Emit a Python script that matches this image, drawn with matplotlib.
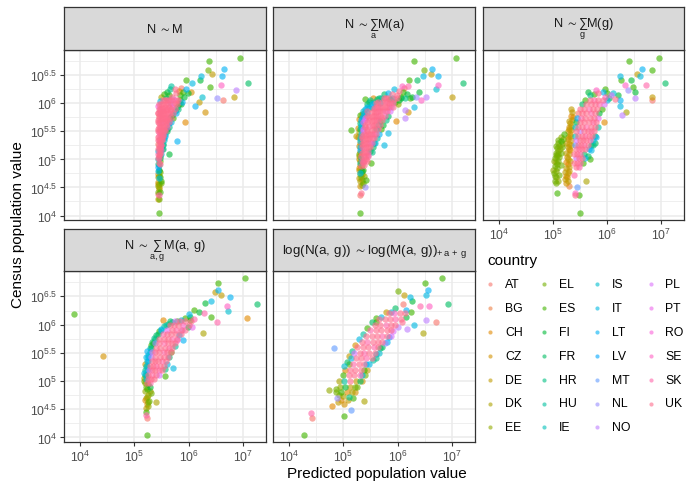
import numpy as np
import matplotlib
matplotlib.use("Agg")
import matplotlib.pyplot as plt

# ---------------- data (log10 values) ----------------
countries = ["AT", "BG", "CH", "CZ", "DE", "DK", "EE", "EL", "ES", "FI", "FR", "HR", "HU", "IE",
             "IS", "IT", "LT", "LV", "MT", "NL", "NO", "PL", "PT", "RO", "SE", "SK", "UK"]

panel_titles = [
    r"$N\ \sim M$",
    r"$N\ \sim \sum_{a} M(a)$",
    r"$N\ \sim \sum_{g} M(g)$",
    r"$N\ \sim \sum_{a,g} M(a,\,g)$",
    r"$\log(N(a,\,g))\ \sim \log(M(a,\,g))_{+\,a\,+\,g}$",
]

x_ticks_log = [4, 5, 6, 7]
y_ticks_log = [4, 4.5, 5, 5.5, 6, 6.5]

# individual points: (log10 predicted, log10 census, country)
p_nm = [
    (5.45,4.04,'ES'),(5.45,4.36,'SK'),(5.44,4.39,'AT'),(5.45,4.47,'CZ'),(5.46,4.50,'DK'),(5.44,4.53,'EE'),
    (5.49,4.58,'EL'),(5.50,4.62,'ES'),(5.44,4.60,'DE'),(5.45,4.66,'IT'),(5.46,4.70,'EE'),(5.44,4.74,'CH'),
    (5.47,4.78,'EL'),(5.45,4.82,'FI'),(5.44,4.86,'LV'),(5.46,4.90,'HU'),(5.45,4.94,'UK'),(5.47,4.97,'EL'),
    (5.44,5.00,'IE'),(5.46,5.03,'SK'),(5.48,5.06,'ES'),(5.45,5.08,'UK'),(5.64,5.09,'FI'),(5.47,5.12,'UK'),
    (5.44,5.15,'IT'),(5.49,5.16,'SE'),(5.52,5.18,'HR'),(5.45,5.20,'UK'),(5.47,5.23,'PL'),(5.50,5.25,'UK'),
    (5.44,5.28,'AT'),(5.53,5.28,'FR'),(5.48,5.31,'UK'),(5.78,5.32,'LT'),(5.46,5.34,'SK'),(5.51,5.36,'UK'),
    (5.55,5.38,'IE'),(5.44,5.40,'UK'),(5.49,5.42,'RO'),(5.53,5.44,'UK'),(5.57,5.46,'HU'),(5.45,5.48,'SE'),
    (5.50,5.50,'UK'),(5.55,5.52,'UK'),(5.60,5.54,'FI'),(5.44,5.55,'UK'),(5.48,5.58,'SK'),(5.53,5.60,'UK'),
    (5.58,5.62,'UK'),(5.63,5.64,'LV'),(5.46,5.64,'UK'),(5.51,5.66,'PT'),(5.56,5.68,'UK'),(5.61,5.70,'UK'),
    (5.93,5.67,'CH'),(5.44,5.70,'UK'),(5.49,5.72,'UK'),(5.54,5.74,'SK'),(5.59,5.76,'UK'),(5.66,5.76,'ES'),
    (5.45,5.77,'AT'),(5.50,5.79,'UK'),(5.55,5.81,'UK'),(5.62,5.82,'UK'),(5.70,5.80,'FI'),(5.44,5.83,'UK'),
    (5.48,5.86,'PL'),(5.53,5.86,'UK'),(5.59,5.88,'UK'),(5.66,5.88,'UK'),(5.74,5.86,'HR'),(5.45,5.90,'UK'),
    (5.51,5.92,'SK'),(5.57,5.93,'UK'),(5.63,5.94,'UK'),(5.70,5.94,'PT'),(5.78,5.93,'FI'),(5.44,5.96,'RO'),
    (5.50,5.98,'UK'),(5.58,5.99,'UK'),(5.66,6.00,'NL'),(5.74,6.00,'UK'),(5.82,5.98,'ES'),(5.48,6.04,'IT'),
    (5.56,6.05,'UK'),(5.64,6.06,'SK'),(5.72,6.07,'PL'),(5.80,6.05,'UK'),(5.88,6.02,'LT'),(6.12,5.96,'LT'),
    (6.20,6.02,'DE'),(6.30,5.85,'CZ'),
    (5.50,6.12,'DK'),(5.58,6.10,'FR'),(5.64,6.14,'ES'),(5.70,6.12,'UK'),(5.60,6.20,'FI'),(5.66,6.25,'HR'),
    (5.76,6.18,'UK'),(5.84,6.15,'ES'),(5.92,6.12,'FI'),(5.74,6.26,'UK'),(5.82,6.22,'CH'),(5.90,6.20,'ES'),
    (5.98,6.18,'FI'),(6.05,6.20,'CZ'),(5.86,6.28,'AT'),(5.95,6.26,'LT'),(6.25,6.11,'IS'),(6.07,6.36,'IT'),
    (5.96,6.42,'ES'),(6.21,6.42,'FI'),(5.68,6.30,'HU'),(5.55,6.17,'ES'),
    (6.37,6.75,'ES'),(6.95,6.81,'ES'),(6.65,6.61,'LT'),(6.35,6.59,'EL'),(6.43,6.53,'DE'),(6.23,6.49,'IT'),
    (6.62,6.49,'LT'),(7.09,6.36,'FR'),(6.60,6.33,'SE'),(6.39,6.29,'ES'),(6.87,6.24,'NO'),(6.52,6.10,'NL'),
    (6.64,6.05,'AT'),(6.83,6.12,'DE'),
]
# dense parts, one row per census level: (log10 census, [log10 predicted...], "countries")
r_nm = [
    (4.30, [5.44, 5.46], "DE EL"),
    (4.42, [5.43, 5.47], "EL ES"),
    (4.56, [5.43, 5.46], "CH EE"),
    (4.68, [5.44, 5.48], "DK ES"),
    (4.80, [5.43, 5.46], "IT EE"),
    (4.92, [5.44, 5.48], "HR UK"),
    (5.02, [5.44, 5.48], "UK FR"),
    (5.10, [5.43, 5.47, 5.50], "SK UK IT"),
    (5.18, [5.44, 5.48, 5.51], "UK UK FR"),
    (5.26, [5.45, 5.49, 5.53], "UK SK HU"),
    (5.34, [5.43, 5.47, 5.51, 5.55], "UK UK UK IS"),
    (5.42, [5.45, 5.49, 5.53, 5.57], "SK UK UK LT"),
    (5.50, [5.43, 5.47, 5.52, 5.57, 5.61], "UK UK SK UK FR"),
    (5.58, [5.45, 5.50, 5.55, 5.60, 5.64], "UK UK UK SE HR"),
    (5.66, [5.43, 5.48, 5.53, 5.58, 5.63, 5.67], "UK SK UK UK UK IT"),
    (5.74, [5.46, 5.51, 5.56, 5.62, 5.68, 5.72], "UK UK UK SK UK ES"),
    (5.82, [5.43, 5.48, 5.53, 5.59, 5.65, 5.71, 5.76], "UK UK UK UK SK UK LT"),
    (5.90, [5.47, 5.53, 5.60, 5.67, 5.74, 5.80], "UK UK SK UK UK HR"),
    (5.98, [5.45, 5.52, 5.62, 5.70, 5.78, 5.86], "UK UK UK SK UK FI"),
    (6.06, [5.52, 5.60, 5.68, 5.76, 5.84], "UK UK UK SK ES"),
]

p_sum_a = [
    (5.31,4.04,'ES'),(5.31,4.37,'AT'),(5.32,4.41,'UK'),(5.40,4.50,'NL'),(5.30,4.52,'CZ'),(5.34,4.55,'EE'),
    (5.37,4.58,'EL'),(5.30,4.61,'DK'),(5.35,4.63,'CH'),(5.42,4.64,'ES'),(5.29,4.67,'DE'),(5.33,4.69,'EL'),
    (5.38,4.70,'EE'),(5.30,4.76,'IT'),(5.34,4.80,'FI'),(5.29,4.85,'CH'),(5.33,4.88,'UK'),(5.51,4.93,'ES'),
    (5.30,4.93,'HU'),(5.36,4.96,'SK'),(5.28,5.00,'DE'),(5.42,5.00,'UK'),(5.32,5.03,'IE'),(5.38,5.06,'UK'),
    (5.46,5.08,'PL'),(5.29,5.10,'EL'),(5.35,5.12,'UK'),(5.42,5.14,'UK'),(5.50,5.15,'FI'),(5.31,5.17,'LT'),
    (5.38,5.20,'SK'),(5.45,5.22,'UK'),(5.28,5.24,'CZ'),(5.75,5.25,'IT'),(5.34,5.27,'UK'),(5.41,5.29,'UK'),
    (5.49,5.30,'PL'),(5.56,5.30,'HR'),(5.23,5.41,'DE'),(5.30,5.33,'IS'),(5.37,5.35,'UK'),(5.45,5.36,'UK'),
    (5.52,5.38,'SK'),(5.27,5.40,'CH'),(5.14,5.53,'ES'),(5.34,5.42,'UK'),(5.41,5.43,'UK'),(5.49,5.45,'UK'),
    (5.57,5.46,'RO'),(5.83,5.47,'IT'),(5.29,5.48,'DK'),(5.37,5.50,'PL'),(5.44,5.51,'UK'),(5.52,5.53,'UK'),
    (5.60,5.55,'FR'),(5.27,5.56,'CZ'),(5.33,5.58,'IS'),(5.40,5.58,'UK'),(5.48,5.60,'SK'),(5.56,5.62,'UK'),
    (5.64,5.62,'HU'),(5.30,5.64,'FR'),(5.36,5.66,'PT'),(5.44,5.67,'UK'),(5.52,5.68,'UK'),(5.60,5.70,'UK'),
    (5.97,5.69,'CH'),(5.68,5.68,'FI'),(5.28,5.72,'CH'),(5.34,5.74,'IT'),(5.40,5.74,'PL'),(5.48,5.75,'UK'),
    (5.56,5.77,'UK'),(5.64,5.78,'SK'),(5.72,5.76,'UK'),(5.34,5.81,'CH'),(5.31,5.80,'ES'),(5.38,5.82,'IS'),
    (5.44,5.82,'LT'),(5.52,5.84,'UK'),(5.60,5.85,'UK'),(5.68,5.86,'UK'),(5.76,5.86,'PT'),(6.13,5.74,'NO'),
    (6.13,5.88,'NO'),(6.20,5.84,'CZ'),(5.40,5.90,'IT'),(5.48,5.91,'HU'),(5.56,5.92,'UK'),(5.64,5.93,'SK'),
    (5.72,5.94,'UK'),(5.80,5.94,'UK'),(5.88,5.93,'PL'),(5.44,5.98,'FR'),(5.52,5.99,'LT'),(5.60,6.00,'UK'),
    (5.68,6.01,'IT'),(5.76,6.02,'UK'),(5.84,6.01,'UK'),(5.92,6.00,'SE'),(6.00,5.98,'EE'),
    (5.40,6.08,'ES'),(5.55,6.09,'CH'),(5.50,6.05,'HR'),(5.62,6.08,'FR'),(5.70,6.10,'HU'),(5.78,6.09,'UK'),
    (5.86,6.08,'ES'),(5.94,6.07,'UK'),(6.02,6.06,'FI'),(5.74,6.16,'FR'),(5.82,6.18,'LT'),(5.90,6.16,'UK'),
    (5.98,6.14,'UK'),(6.06,6.12,'ES'),(6.14,6.10,'HR'),(6.22,6.10,'ES'),(5.94,6.25,'IT'),(6.02,6.22,'UK'),
    (6.10,6.20,'ES'),(6.18,6.16,'FI'),(6.26,6.12,'FI'),(6.34,6.12,'NL'),(6.08,6.30,'SE'),(6.12,6.27,'AT'),
    (6.31,5.94,'IT'),(6.43,6.06,'SE'),
    (6.30,6.75,'ES'),(7.07,6.81,'ES'),(6.48,6.59,'EL'),(6.63,6.61,'LT'),(6.46,6.49,'IT'),(6.62,6.53,'DE'),
    (6.75,6.49,'LT'),(7.21,6.36,'FR'),(6.21,6.42,'ES'),(6.35,6.42,'FR'),(6.75,6.33,'SE'),(6.70,6.25,'IS'),
    (6.53,6.11,'NO'),(7.01,6.12,'DE'),(6.20,6.30,'SK'),(6.40,6.21,'FI'),
]
r_sum_a = [
    (4.74, [5.31, 5.35], "EL DE"),
    (4.82, [5.29, 5.33, 5.37], "DE EL ES"),
    (4.90, [5.31, 5.35, 5.39], "CH EE UK"),
    (4.98, [5.30, 5.34, 5.38, 5.44], "CZ UK SK UK"),
    (5.06, [5.29, 5.33, 5.41, 5.46], "DE UK UK UK"),
    (5.14, [5.31, 5.38, 5.46, 5.52], "CH UK SK HR"),
    (5.22, [5.30, 5.34, 5.41, 5.49, 5.55], "IT UK UK UK FR"),
    (5.30, [5.31, 5.38, 5.45, 5.53, 5.59], "CH UK UK SK IT"),
    (5.38, [5.30, 5.34, 5.41, 5.48, 5.56, 5.62], "IS UK UK UK UK HU"),
    (5.46, [5.32, 5.38, 5.45, 5.53, 5.61, 5.66], "IT UK SK UK UK LT"),
    (5.54, [5.30, 5.36, 5.44, 5.56, 5.64, 5.70], "FR PL UK UK SK ES"),
    (5.62, [5.33, 5.40, 5.52, 5.60, 5.68, 5.73], "IT UK UK UK UK FI"),
    (5.70, [5.32, 5.40, 5.48, 5.56, 5.64, 5.72, 5.78], "LT PL UK UK SK UK HR"),
    (5.78, [5.36, 5.44, 5.52, 5.60, 5.68, 5.76, 5.82], "IT UK UK UK UK SK FR"),
    (5.86, [5.36, 5.44, 5.56, 5.64, 5.72, 5.80, 5.86], "IS UK UK SK UK UK PL"),
    (5.94, [5.44, 5.52, 5.60, 5.68, 5.76, 5.84, 5.92], "LT IT UK UK UK SK UK"),
    (6.02, [5.48, 5.56, 5.64, 5.72, 5.80, 5.88, 5.96], "FR HU UK UK SK UK ES"),
    (6.10, [5.66, 5.74, 5.82, 5.90, 5.98, 6.06], "FR UK UK IT UK FI"),
]

p_sum_g = [
    (5.03,4.62,'EL'),(5.07,4.40,'ES'),(5.05,4.68,'EE'),(5.02,4.75,'EL'),(5.06,4.80,'EE'),(5.03,4.88,'EL'),
    (5.08,4.85,'EL'),(5.05,4.95,'EE'),(5.10,4.98,'EL'),(5.04,5.02,'EL'),(5.08,5.06,'EE'),(5.12,5.04,'EL'),
    (5.06,5.12,'EL'),(5.10,5.15,'EE'),(5.14,5.12,'EL'),(5.08,5.20,'EL'),(5.12,5.24,'EE'),(5.16,5.22,'EL'),
    (5.10,5.30,'EL'),(5.15,5.32,'ES'),(5.18,5.36,'EL'),(5.14,5.40,'EE'),(5.20,5.45,'ES'),(5.12,4.72,'EL'),
    (5.15,4.90,'EL'),(5.04,4.70,'EL'),(5.00,4.82,'EE'),(5.07,4.92,'EL'),(5.02,4.98,'EE'),(5.06,5.08,'EL'),
    (5.10,5.10,'EL'),(5.13,5.18,'EE'),(5.06,5.24,'EL'),(5.09,5.35,'EL'),(5.17,5.28,'EE'),(5.05,4.58,'EL'),
    (5.09,4.62,'EE'),
    (5.25,4.58,'CZ'),(5.28,4.62,'DE'),(5.24,4.70,'CH'),(5.27,4.75,'DE'),(5.30,4.80,'CZ'),(5.25,4.85,'DE'),
    (5.28,4.92,'CH'),(5.31,4.98,'DE'),(5.26,5.04,'CZ'),(5.29,5.10,'DE'),(5.32,5.16,'CH'),(5.27,5.22,'DE'),
    (5.30,5.28,'CZ'),(5.33,5.34,'DE'),(5.28,5.40,'DE'),(5.31,5.46,'CH'),(5.34,5.52,'DE'),(5.29,5.58,'CZ'),
    (5.32,5.64,'DE'),(5.35,5.70,'DE'),(5.33,5.78,'CH'),(5.36,5.84,'DE'),(5.22,4.65,'DE'),(5.26,4.68,'CZ'),
    (5.23,4.78,'DE'),(5.29,4.86,'DE'),(5.24,4.95,'CH'),(5.27,5.00,'DE'),(5.24,5.12,'DE'),(5.30,5.19,'CZ'),
    (5.25,5.30,'DE'),(5.33,5.25,'DE'),(5.27,5.36,'CH'),(5.32,5.42,'DE'),(5.27,5.50,'DE'),(5.30,5.54,'CZ'),
    (5.34,5.60,'DE'),(5.30,5.68,'DE'),(5.37,5.76,'CH'),(5.34,5.90,'DE'),
    (5.29,4.53,'BG'),(5.41,4.36,'UK'),(5.41,4.40,'SE'),(5.44,4.50,'MT'),(5.49,4.36,'ES'),(5.50,4.04,'ES'),
    (5.62,4.62,'DK'),(5.38,4.72,'SK'),(5.64,5.06,'FR'),(5.70,5.16,'IT'),(5.74,5.26,'HR'),(5.68,5.00,'ES'),
    (5.80,5.40,'LT'),(5.78,5.30,'FR'),
    (5.96,6.12,'SE'),(6.04,6.10,'FI'),(5.68,6.14,'HR'),(5.76,6.16,'ES'),(5.84,6.18,'UK'),(5.92,6.20,'LT'),
    (6.00,6.18,'ES'),(6.08,6.14,'PL'),(5.64,6.20,'FI'),(5.80,6.24,'SE'),(5.96,6.26,'ES'),(6.12,6.18,'IS'),
    (6.20,6.14,'FI'),(6.14,6.08,'UK'),(6.24,6.06,'LT'),(5.94,5.67,'CH'),
    (6.41,6.75,'ES'),(6.97,6.81,'ES'),(6.64,6.61,'LT'),(6.83,6.59,'ES'),(6.56,6.52,'DE'),(6.61,6.49,'IT'),
    (6.24,6.49,'IT'),(6.45,6.42,'FI'),(6.25,6.41,'ES'),(7.07,6.36,'FR'),(6.34,6.33,'SE'),(6.73,6.33,'SK'),
    (6.48,6.29,'ES'),(6.38,6.24,'NL'),(6.52,6.20,'FI'),(6.84,6.12,'DE'),(6.84,6.05,'AT'),(6.52,6.10,'NO'),
    (6.24,5.95,'IT'),(6.28,5.80,'NO'),(6.36,5.85,'DK'),
]
r_sum_g = [
    (4.86, [5.42, 5.48], "UK SK"),
    (4.94, [5.38, 5.44, 5.50, 5.56], "UK UK SK ES"),
    (5.02, [5.42, 5.48, 5.54, 5.60], "PL UK UK IT"),
    (5.10, [5.38, 5.44, 5.50, 5.58], "UK UK SK FR"),
    (5.18, [5.42, 5.48, 5.54, 5.60, 5.66], "UK SK UK UK LT"),
    (5.26, [5.40, 5.46, 5.52, 5.58, 5.64, 5.70], "MT UK UK SK UK HR"),
    (5.34, [5.42, 5.50, 5.56, 5.62, 5.68, 5.74], "PL UK UK UK SK IT"),
    (5.42, [5.40, 5.46, 5.54, 5.60, 5.66, 5.72, 5.78], "IE UK UK SK UK UK FR"),
    (5.50, [5.42, 5.50, 5.58, 5.64, 5.70, 5.76], "UK NO UK UK SK UK"),
    (5.58, [5.40, 5.46, 5.54, 5.62, 5.70, 5.78, 5.84], "IS UK UK SK UK UK HU"),
    (5.66, [5.42, 5.50, 5.58, 5.66, 5.74, 5.80], "FI UK UK UK SK UK"),
    (5.74, [5.44, 5.52, 5.60, 5.68, 5.76, 5.84], "LV SK UK UK UK PT"),
    (5.82, [5.46, 5.54, 5.62, 5.70, 5.78, 5.86], "AT UK UK SK UK FI"),
    (5.90, [5.50, 5.58, 5.66, 5.74, 5.82, 5.90], "UK UK SK UK UK ES"),
    (5.98, [5.54, 5.62, 5.70, 5.78, 5.86, 5.94], "FR UK UK UK SK PL"),
    (6.06, [5.60, 5.68, 5.76, 5.84, 5.92, 6.00], "ES UK SK UK UK IT"),
]

p_sum_ag = [
    (5.23,4.04,'ES'),(5.24,4.35,'AT'),(5.22,4.40,'SK'),(5.21,4.46,'ES'),(5.40,4.63,'DK'),(5.25,4.55,'EE'),
    (5.23,4.60,'CZ'),(5.27,4.65,'EL'),(5.22,4.70,'DE'),(5.26,4.75,'DK'),(5.30,4.78,'EL'),(5.20,4.82,'EE'),
    (5.24,4.86,'ES'),(5.28,4.90,'FI'),(5.21,4.52,'DE'),(5.25,4.62,'EL'),(5.20,4.66,'CH'),(5.24,4.72,'EE'),
    (5.28,4.82,'DE'),(5.22,4.90,'EL'),(5.26,4.94,'ES'),
    (5.17,5.00,'EL'),(5.18,5.05,'EE'),(5.20,5.10,'FR'),(5.17,5.15,'IT'),(5.20,5.20,'HR'),(5.22,5.26,'HU'),
    (5.19,5.30,'CZ'),(5.23,5.35,'IE'),(5.22,5.42,'IT'),(5.25,5.47,'IS'),(5.24,5.54,'LT'),(5.28,5.58,'HU'),
    (5.30,5.64,'ES'),(5.33,5.70,'FR'),(5.36,5.76,'HR'),(5.40,5.82,'FR'),(5.45,5.88,'ES'),(5.50,5.92,'IT'),
    (5.55,5.97,'HU'),(5.62,6.01,'FR'),(5.70,6.04,'HR'),(5.78,6.06,'ES'),(5.86,6.09,'IT'),(5.94,6.12,'ES'),
    (6.02,6.14,'FI'),(5.53,6.08,'CH'),
    (5.78,5.73,'PT'),(5.82,5.82,'LT'),(5.88,5.91,'PL'),(5.98,5.96,'FI'),(6.06,5.95,'PT'),(5.90,5.72,'LT'),
    (6.02,6.09,'ES'),(6.10,6.10,'SK'),(6.00,6.18,'IT'),(5.74,5.62,'HU'),(5.68,5.52,'ES'),(5.64,5.42,'FR'),
    (5.60,5.30,'IT'),(5.56,5.22,'HR'),
    (3.88,6.19,'ES'),(4.43,5.44,'CZ'),(6.55,6.74,'ES'),(7.04,6.82,'ES'),(6.48,6.58,'DE'),(6.55,6.61,'LT'),
    (6.60,6.53,'DE'),(6.76,6.49,'LT'),(6.42,6.42,'IT'),(6.31,6.39,'FI'),(7.26,6.36,'FR'),(6.70,6.33,'SE'),
    (6.72,6.24,'IS'),(7.08,6.11,'CH'),(6.52,6.04,'SK'),(6.42,6.13,'ES'),(6.26,5.85,'DK'),(5.72,5.24,'IT'),
    (5.57,5.09,'ES'),(6.20,6.22,'FI'),(6.28,6.20,'SK'),(6.10,6.26,'ES'),
]
r_sum_ag = [
    (4.96, [5.20, 5.24, 5.28], "EE UK SK"),
    (5.03, [5.21, 5.25, 5.31, 5.37], "IT UK UK UK"),
    (5.11, [5.22, 5.26, 5.33, 5.40, 5.45], "HR UK SK UK PL"),
    (5.19, [5.23, 5.27, 5.33, 5.39, 5.45, 5.51], "IE PL UK UK SK UK"),
    (5.27, [5.24, 5.28, 5.34, 5.40, 5.47, 5.54], "IS UK UK SK UK UK"),
    (5.35, [5.26, 5.32, 5.38, 5.44, 5.51, 5.58], "LT UK UK UK SK UK"),
    (5.43, [5.26, 5.31, 5.39, 5.47, 5.55, 5.62], "IT NO UK UK UK SK"),
    (5.51, [5.28, 5.33, 5.39, 5.46, 5.54, 5.61, 5.67], "HU PL UK UK SK UK UK"),
    (5.59, [5.31, 5.40, 5.48, 5.56, 5.64, 5.70], "FR UK UK UK SK UK"),
    (5.67, [5.34, 5.39, 5.46, 5.54, 5.62, 5.70, 5.75], "ES NL UK SK UK UK UK"),
    (5.75, [5.38, 5.46, 5.54, 5.62, 5.70, 5.78], "HR UK UK UK SK UK"),
    (5.83, [5.43, 5.52, 5.60, 5.68, 5.77, 5.86], "FR SK UK UK UK UK"),
    (5.91, [5.50, 5.60, 5.69, 5.77, 5.86, 5.94], "IT PT UK SK UK UK"),
    (5.99, [5.58, 5.66, 5.73, 5.81, 5.90, 6.00], "HU UK UK UK SE UK"),
    (6.06, [5.66, 5.75, 5.84, 5.93, 6.04], "FR PL UK UK UK"),
]

p_log = [
    (4.28,4.04,'ES'),(4.42,4.35,'AT'),(4.40,4.43,'SK'),(5.01,4.38,'ES'),(5.14,4.49,'MT'),(5.39,4.64,'DK'),
    (4.80,4.56,'CH'),(4.88,4.70,'NL'),(4.73,4.84,'EE'),(4.83,5.59,'MT'),
    (4.90,4.62,'DE'),(4.96,4.66,'CH'),(5.02,4.60,'CZ'),(5.08,4.66,'DE'),(4.92,4.76,'EE'),(5.00,4.74,'DK'),
    (5.10,4.72,'HR'),(5.18,4.70,'ES'),(5.22,4.80,'CZ'),(5.26,4.90,'EL'),(5.30,5.00,'FR'),(4.86,4.86,'EL'),
    (5.02,5.26,'IS'),(5.06,5.34,'FR'),(5.10,5.44,'DE'),(5.16,5.54,'HR'),(5.22,5.64,'CZ'),(5.28,5.74,'IT'),
    (5.36,5.84,'HU'),(5.44,5.94,'ES'),(5.52,6.04,'FR'),(5.60,6.12,'ES'),(5.70,6.14,'IT'),(5.78,6.22,'DE'),
    (5.88,6.22,'IS'),(5.96,6.30,'FR'),(6.10,6.36,'AT'),(6.16,6.26,'LT'),(6.24,6.22,'ES'),(6.16,6.14,'FI'),
    (6.08,6.04,'UK'),(6.00,5.96,'NO'),(5.92,5.88,'PL'),(5.84,5.78,'LT'),(5.76,5.68,'NL'),(5.68,5.58,'FR'),
    (5.60,5.48,'IS'),(5.54,5.38,'HU'),(5.42,5.30,'LT'),(5.38,5.20,'ES'),(5.34,5.10,'IT'),
    (6.82,6.82,'ES'),(6.50,6.74,'ES'),(6.56,6.61,'LT'),(6.52,6.52,'IT'),(6.00,6.59,'EL'),(6.11,6.52,'DE'),
    (6.22,6.49,'IT'),(6.26,6.42,'FI'),(6.92,6.36,'FR'),(6.58,6.33,'SE'),(6.41,6.33,'SK'),(6.52,6.08,'NO'),
    (6.71,6.05,'AT'),(6.46,5.85,'DK'),(5.60,6.05,'ES'),(6.30,6.00,'IT'),(6.18,5.92,'NO'),
]
r_log = [
    (4.80, [4.86, 4.96, 5.06, 5.16], "EL ES CH DK"),
    (4.90, [4.94, 5.04, 5.12, 5.22], "EE FI DE EL"),
    (5.00, [4.92, 5.02, 5.12, 5.24, 5.34], "DK HU UK DE CZ"),
    (5.10, [5.00, 5.10, 5.20, 5.30, 5.40], "ES UK UK SK EL"),
    (5.20, [5.04, 5.12, 5.22, 5.32, 5.44], "CH UK UK UK DE"),
    (5.30, [5.10, 5.18, 5.28, 5.38, 5.48], "EL SK UK UK IT"),
    (5.40, [5.14, 5.24, 5.32, 5.42, 5.52, 5.60], "IT UK UK SK UK HR"),
    (5.50, [5.20, 5.30, 5.38, 5.48, 5.58, 5.66], "PL UK SK UK UK IS"),
    (5.60, [5.26, 5.36, 5.46, 5.56, 5.64, 5.72], "UK UK UK SK UK FR"),
    (5.70, [5.34, 5.44, 5.54, 5.64, 5.72, 5.80], "UK SK UK UK UK LT"),
    (5.80, [5.42, 5.52, 5.62, 5.72, 5.80, 5.88], "UK UK UK SK UK PL"),
    (5.90, [5.50, 5.60, 5.70, 5.80, 5.88], "SK UK UK UK UK"),
    (6.00, [5.58, 5.68, 5.78, 5.88, 5.96], "UK UK SK UK UK"),
    (6.10, [5.66, 5.76, 5.86, 5.96, 6.06], "UK UK UK SK UK"),
    (6.20, [5.84, 5.94, 6.04, 6.14], "UK SE UK UK"),
]

panels_data = [(p_nm, r_nm), (p_sum_a, r_sum_a), (p_sum_g, r_sum_g), (p_sum_ag, r_sum_ag), (p_log, r_log)]


# ---------------- colours: ggplot2 default hue palette ----------------
def hcl_to_rgb(h, c=100.0, l=65.0):
    hr = np.deg2rad(h)
    U, V = c * np.cos(hr), c * np.sin(hr)
    Y = ((l + 16) / 116) ** 3
    un, vn = 0.1978398, 0.4683363
    u = U / (13 * l) + un
    v = V / (13 * l) + vn
    X = Y * 9 * u / (4 * v)
    Z = Y * (12 - 3 * u - 20 * v) / (4 * v)
    M = np.array([[3.240479, -1.537150, -0.498535],
                  [-0.969256, 1.875992, 0.041556],
                  [0.055648, -0.204043, 1.057311]])
    lin = M @ np.array([X, Y, Z])
    out = [12.92 * t if t <= 0.0031308 else 1.055 * t ** (1 / 2.4) - 0.055 for t in lin]
    return tuple(min(max(t, 0.0), 1.0) for t in out)


n = len(countries)
palette = {cc: hcl_to_rgb(15 + 360.0 * i / n) for i, cc in enumerate(countries)}

# ---------------- style ----------------
plt.rcParams['font.family'] = ['Liberation Sans', 'DejaVu Sans']
plt.rcParams['mathtext.fontset'] = 'custom'
plt.rcParams['mathtext.rm'] = 'Liberation Sans'
plt.rcParams['mathtext.it'] = 'Liberation Sans'
plt.rcParams['mathtext.bf'] = 'Liberation Sans:bold'
plt.rcParams['mathtext.sf'] = 'Liberation Sans'
plt.rcParams['mathtext.fallback'] = 'stixsans'

W, H = 693, 485
fig = plt.figure(figsize=(W / 100, H / 100), dpi=100)
fig.patch.set_facecolor('white')


def rect(l, t, r, b):
    return [l / W, 1 - b / H, (r - l) / W, (b - t) / H]


cols = [(64, 266), (273, 475), (483, 684)]
rows = [(8, 51, 221), (230, 272, 443)]
positions = [(0, 0), (0, 1), (0, 2), (1, 0), (1, 1)]

XLIM = (10 ** 3.705, 10 ** 7.425)
YLIM = (10 ** 3.92, 10 ** 6.95)
border = '#333333'

for k, (ri, ci) in enumerate(positions):
    l, r = cols[ci]
    st, sb, pb = rows[ri]
    ax = fig.add_axes(rect(l, sb, r, pb))
    ax.set_xscale('log')
    ax.set_yscale('log')
    ax.set_facecolor('white')

    ax.set_xticks([10.0 ** v for v in x_ticks_log])
    ax.set_xticklabels([r"$10^{%g}$" % v for v in x_ticks_log])
    ax.set_xticks([10.0 ** (v + 0.5) for v in [3] + x_ticks_log], minor=True)
    ax.set_yticks([10.0 ** v for v in y_ticks_log])
    ax.set_yticklabels([r"$10^{%g}$" % v for v in y_ticks_log])
    ax.set_yticks([10.0 ** (v + 0.25) for v in [3.75] + y_ticks_log], minor=True)
    ax.set_xticklabels([], minor=True)
    ax.set_yticklabels([], minor=True)
    ax.set_xlim(*XLIM)
    ax.set_ylim(*YLIM)

    ax.grid(True, which='major', color='#EBEBEB', linewidth=1.1)
    ax.grid(True, which='minor', color='#EBEBEB', linewidth=0.55)
    ax.set_axisbelow(True)
    ax.tick_params(which='minor', length=0)
    ax.tick_params(which='major', length=3.0, width=0.8, color=border,
                   labelsize=8.8, labelcolor='#4D4D4D', pad=2)

    show_x = k in (2, 3, 4)
    show_y = k in (0, 3)
    ax.tick_params(axis='x', which='major', bottom=show_x, labelbottom=show_x)
    ax.tick_params(axis='y', which='major', left=show_y, labelleft=show_y)
    for s in ax.spines.values():
        s.set_color(border)
        s.set_linewidth(0.9)

    pts, dense = panels_data[k]
    allpts = list(pts)
    for (yv, xs, cs) in dense:
        for xv, cc in zip(xs, cs.split()):
            allpts.append((xv, yv, cc))
    for cc in countries:
        sel = [(px, py) for (px, py, pc) in allpts if pc == cc]
        if not sel:
            continue
        xs = [10.0 ** p[0] for p in sel]
        ys = [10.0 ** p[1] for p in sel]
        ax.scatter(xs, ys, s=21, color=palette[cc], alpha=0.62, linewidths=0, zorder=3)

    sax = fig.add_axes(rect(l, st, r, sb))
    sax.set_facecolor('#D9D9D9')
    sax.set_xticks([])
    sax.set_yticks([])
    for s in sax.spines.values():
        s.set_color(border)
        s.set_linewidth(0.9)
    sax.text(0.5, 0.5, panel_titles[k], ha='center', va='center',
             fontsize=9.6 if k == 4 else 9.2,
             color='#1A1A1A', transform=sax.transAxes)

# axis titles
fig.text(377 / W, 1 - 474 / H, 'Predicted population value', ha='center', va='center',
         fontsize=11, color='black')
fig.text(18 / W, 1 - 225 / H, 'Census population value', ha='center', va='center',
         rotation=90, fontsize=11, color='black')

# legend
lax = fig.add_axes([0, 0, 1, 1])
lax.set_xlim(0, W)
lax.set_ylim(H, 0)
lax.axis('off')
lax.text(487, 261, 'country', ha='left', va='center', fontsize=11, color='black')
nrow = 7
for i, cc in enumerate(countries):
    col, row = divmod(i, nrow)
    kx = 490 + col * 53.5
    ky = 285 + row * 23.9
    lax.scatter([kx], [ky], s=9, color=palette[cc], alpha=0.6, linewidths=0)
    lax.text(kx + 15, ky, cc, ha='left', va='center', fontsize=8.8, color='black')

fig.savefig('out.png', dpi=100, facecolor='white')
